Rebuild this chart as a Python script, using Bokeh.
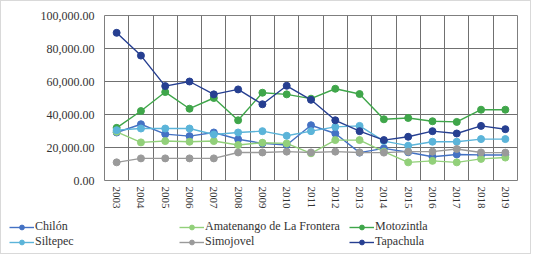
from bokeh.plotting import figure
from bokeh.layouts import column
from bokeh.models import Legend, LegendItem, FixedTicker, NumeralTickFormatter, Range1d
from bokeh.embed import file_html
from bokeh.resources import INLINE

years = list(range(2003, 2020))
chilon = [29100, 34100, 28100, 26900, 29100, 25000, 22500, 21500, 33500, 28500,
          16900, 19500, 17100, 14400, 15800, 15500, 15500]
amatenango = [29500, 23100, 23900, 23500, 23900, 21500, 22900, 22500, 16500, 24500,
              24500, 17500, 11000, 11900, 11000, 13100, 13900]
motozintla = [31900, 42100, 53600, 43500, 50000, 36500, 53200, 52200, 49600, 55600,
              52400, 37100, 37900, 35900, 35500, 42900, 42900]
siltepec = [30500, 31500, 31500, 31500, 27900, 29100, 29900, 27100, 29900, 32500,
            33100, 23900, 21100, 23500, 23500, 25100, 25100]
simojovel = [11000, 13400, 13400, 13400, 13400, 17000, 17000, 17500, 17000, 17500,
             17000, 16900, 17500, 17500, 19100, 17000, 16900]
tapachula = [89500, 75700, 57200, 60000, 52200, 55200, 46200, 57400, 48900, 36500,
             29900, 24500, 26500, 29900, 28500, 33100, 31100]

series = [
    ("Chilón", chilon, "#4472C4"),
    ("Amatenango de La Frontera", amatenango, "#92D07A"),
    ("Motozintla", motozintla, "#3FA64A"),
    ("Siltepec", siltepec, "#5BB4D9"),
    ("Simojovel", simojovel, "#9A9A9A"),
    ("Tapachula", tapachula, "#263F91"),
]
# legend fills column by column (2 rows): order so that rows read as in reference
legend_order = ["Chilón", "Siltepec", "Amatenango de La Frontera", "Simojovel",
                "Motozintla", "Tapachula"]
y_ticks = [0, 20000, 40000, 60000, 80000, 100000]

FONT = "serif"
TXT = "#333333"
W = 529

p = figure(width=W, height=215, output_backend="svg", toolbar_location=None,
           x_range=Range1d(years[0] - 0.5, years[-1] + 0.5),
           y_range=Range1d(0, 100000),
           min_border_left=103, min_border_right=13, min_border_top=14,
           min_border_bottom=36)
p.frame_align = False

for name, vals, col in series:
    p.line(years, vals, line_color=col, line_width=1.4)
    p.scatter(years, vals, size=7, fill_color=col, line_color=col)

p.outline_line_color = "#7f7f7f"
p.outline_line_width = 1

p.xaxis.ticker = FixedTicker(ticks=years)
p.xaxis.major_label_overrides = {y: str(y) for y in years}
p.xaxis.major_label_orientation = "vertical"
p.xgrid.ticker = FixedTicker(ticks=[y + 0.5 for y in years[:-1]])
p.xgrid.grid_line_color = "#707070"
p.ygrid.ticker = FixedTicker(ticks=y_ticks)
p.ygrid.grid_line_color = "#707070"
p.yaxis.ticker = FixedTicker(ticks=y_ticks)
p.yaxis.formatter = NumeralTickFormatter(format="0,0.00")

for ax in (p.xaxis, p.yaxis):
    ax.axis_line_color = None
    ax.major_tick_line_color = None
    ax.minor_tick_line_color = None
    ax.major_tick_out = 0
    ax.major_label_text_font = FONT
    ax.major_label_text_color = TXT
p.xaxis.major_label_text_font_size = "11px"
p.xaxis.major_label_standoff = 6
p.yaxis.major_label_text_font_size = "12px"
p.yaxis.major_label_standoff = 10

# legend strip below the chart (series drawn off-view, only their legend shows)
lf = figure(width=W, height=37, output_backend="svg", toolbar_location=None,
            x_axis_type=None, y_axis_type=None, min_border=0,
            x_range=Range1d(0, 1), y_range=Range1d(0, 1))
lf.frame_align = False
lf.outline_line_color = None
lf.grid.visible = False
data = {name: (vals, col) for name, vals, col in series}
items = []
for name in legend_order:
    vals, col = data[name]
    r1 = lf.line(years, vals, line_color=col, line_width=1.4)
    r2 = lf.scatter(years, vals, size=7, fill_color=col, line_color=col)
    items.append(LegendItem(label=name, renderers=[r1, r2]))

legend = Legend(items=items, ncols=3, location=(8, 4),
                glyph_width=25, glyph_height=12, label_standoff=1,
                label_width=144, label_height=14, spacing=0, padding=0, margin=0,
                label_text_font=FONT, label_text_font_size="12px",
                label_text_color=TXT,
                border_line_color=None, background_fill_alpha=0)
lf.add_layout(legend, "center")

lay = column(p, lf, spacing=0)
lay.styles = {"border": "1px solid #d9d9d9"}

open("out.html", "w").write(file_html(lay, INLINE))
